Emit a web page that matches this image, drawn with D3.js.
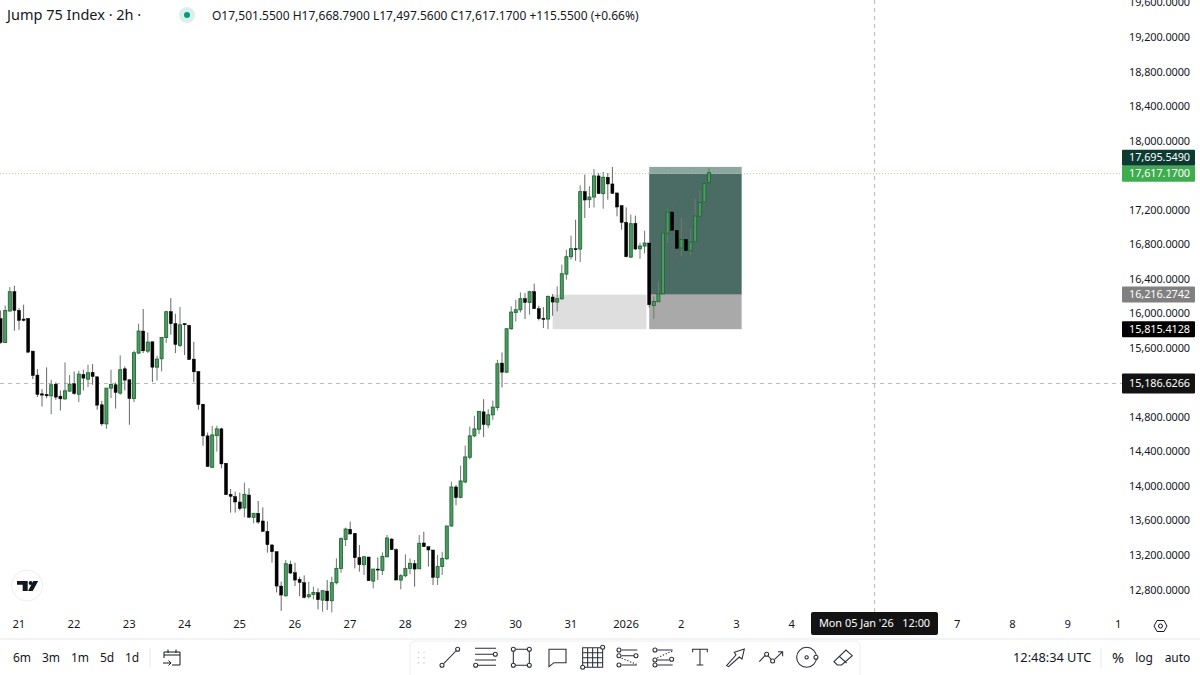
<!DOCTYPE html>
<html><head><meta charset="utf-8">
<script src="https://cdnjs.cloudflare.com/ajax/libs/d3/7.8.5/d3.min.js"></script>
<style>
html,body{margin:0;padding:0;background:#fff;overflow:hidden}
svg{display:block}
text{font-family:"Noto Sans",sans-serif;fill:#131722}
</style></head><body>
<svg id="c" width="1200" height="675"></svg>
<script>
const opens=[15925,15650,16014,16238,16021,15921,15929,15550,15272,15055,
15048,15032,15167,15028,14997,15086,15171,15051,15279,15225,
15303,15252,14928,14707,15121,15160,15063,15345,15218,15001,
15527,15782,15550,15658,15364,15461,15708,16006,15867,15616,
15867,15848,15457,15314,14935,14568,14204,14571,14649,14251,
13891,13864,13802,13733,13883,13625,13671,13582,13462,13304,
13226,12828,12716,13080,12983,12906,12867,12705,12732,12751,
12666,12770,12658,12867,13033,13369,13485,13439,13157,13076,
13165,12886,13025,13010,13168,13373,13250,12898,12948,13033,
13087,13029,13327,13284,13246,12929,13056,13145,13524,13976,
13856,14034,14320,14568,14645,14846,14696,14812,14897,15411,
15306,15809,15998,16029,16157,16114,16238,16041,15929,15921,
16176,16118,16156,16442,16643,16736,16732,17397,17304,17335,
17579,17374,17563,17486,17382,17235,17041,16639,17030,16736,
16767,16802,16079,16122,16214,16914,17161,16949,16744,16844,
16713,16817,17111,17273,17501.55];
const closes=[15650,16021,16238,16021,15906,15906,15538,15268,15048,15040,
15032,15160,15017,14997,15090,15167,15059,15283,15237,15299,
15256,14924,14707,15121,15163,15071,15334,15214,15001,15531,
15782,15554,15654,15364,15457,15708,16006,15867,15627,15855,
15855,15453,15310,14932,14568,14212,14579,14649,14243,13887,
13868,13802,13725,13891,13625,13671,13570,13462,13308,13226,
12828,12724,13087,12979,12898,12871,12697,12728,12755,12670,
12774,12658,12867,13033,13377,13489,13431,13157,13076,13168,
12890,13025,13014,13172,13385,13250,12898,12948,13033,13091,
13025,13323,13284,13246,12929,13056,13149,13524,13976,13853,
14046,14324,14568,14649,14850,14700,14812,14901,15403,15306,
15809,16002,16029,16157,16114,16238,16041,15925,15917,16184,
16118,16157,16446,16643,16736,16728,17397,17300,17335,17579,
17374,17563,17486,17378,17219,17041,16643,17026,16732,16767,
16802,16087,16125,16214,16918,17161,16949,16740,16844,16713,
16813,17115,17273,17490,17617.17];
const highs=[16021,16079,16292,16307,16049,16087,15929,15550,15341,15109,
15361,15218,15187,15094,15419,15272,15314,15322,15334,15391,
15399,15256,14974,15121,15334,15187,15500,15372,15218,15554,
15867,16037,15766,15658,15496,15708,16018,16164,15983,16060,
15875,15855,15658,15314,14935,14606,14684,14684,14664,14251,
13953,13922,13911,14026,13961,13671,13814,13740,13578,13315,
13226,12879,13130,13122,13099,12937,12952,12879,12821,12801,
12774,12898,12937,13149,13393,13505,13574,13439,13304,13168,
13165,13025,13161,13219,13420,13381,13265,12967,13196,13149,
13130,13420,13458,13284,13246,13188,13226,13524,14038,13999,
14224,14455,14676,14800,14850,14993,14877,14978,15449,15534,
15809,16068,16145,16230,16222,16249,16331,16076,16060,16192,
16211,16300,16551,16724,16887,17072,17470,17594,17459,17660,
17613,17625,17613,17683,17382,17235,17215,17130,17119,16806,
16945,16802,16183,16357,16929,17200,17266,16949,17092,17084,
16968,17316,17420,17497,17668.79];
const lows=[15635,15643,16010,15786,15797,15894,15527,15225,15017,14908,
15005,14819,14986,14862,14986,15078,15044,14959,15094,15132,
15160,14870,14684,14649,15005,14885,15044,15094,14696,14959,
15519,15527,15527,15191,15210,15314,15643,15739,15527,15596,
15504,15450,15191,14870,14452,14212,14200,14386,14193,13883,
13679,13679,13702,13625,13625,13555,13547,13458,13215,13099,
12755,12542,12705,12967,12828,12712,12685,12685,12674,12558,
12531,12550,12523,12848,12983,13292,13431,13033,12995,12956,
12890,12801,12898,12956,13161,13246,12898,12790,12929,12967,
12821,13025,13284,13053,12840,12840,12956,13130,13516,13764,
13845,14019,14297,14553,14591,14553,14657,14754,14862,15129,
15295,15797,15894,15998,15921,15971,16037,15905,15817,15805,
15960,16010,16145,16377,16609,16597,16582,17092,17208,17215,
17370,17200,17304,17370,17111,16956,16636,16628,16724,16620,
16682,16056,15924,16122,16207,16802,16937,16597,16647,16713,
16659,16813,17103,17258,17497.56];

const priceTicks=[12800,13200,13600,14000,14400,14800,15600,16000,16400,16800,17200,18000,18400,18800,19200,19600];
const timeTickBars=[4,16,28,40,52,64,76,88,100,112,124,136,148,160,172,208,220,232,243];
const timeTickLabels=["21","22","23","24","25","26","27","28","29","30","31","2026","2","3","4","7","8","9","1"];

const targetPrice=17695.549, lastPrice=17617.17, entryPrice=16216.2742, stopPrice=15815.4128, crosshairPrice=15186.6266;
const leftBoxBars=[120,140.4], rightBoxBars=[141,161.1], crosshairBar=190;
const priceTags=[
 {price:targetPrice,label:"17,695.5490",fill:"#0c3b32",h:16,above:true},
 {price:lastPrice,label:"17,617.1700",fill:"#40ac50",h:16},
 {price:entryPrice,label:"16,216.2742",fill:"#808080",h:16},
 {price:stopPrice,label:"15,815.4128",fill:"#000000",h:16},
 {price:crosshairPrice,label:"15,186.6266",fill:"#131313",h:20}];
const legendTitle="Jump 75 Index · 2h ·";
const legendValues="O17,501.5500 H17,668.7900 L17,497.5600 C17,617.1700 +115.5500 (+0.66%)";
const rangeButtons=["6m","3m","1m","5d","1d"];
const rangeCentres=[22,51,80,107,132];

const svg=d3.select("#c");
const x=d3.scaleLinear().domain([0,200]).range([0.6,920.6]);
const y=d3.scaleLinear().domain([12800,19200]).range([588.5,36]);
const plotRight=1122, plotBottom=612;
const F=12, PF=10.9, LS="-0.08px";

svg.append("rect").attr("width",1200).attr("height",675).attr("fill","#fff");

// overlays sit one pixel below the candle calibration
const over=svg.append("g").attr("transform","translate(0,1)");
over.append("line").attr("x1",0).attr("x2",plotRight).attr("y1",y(lastPrice)).attr("y2",y(lastPrice))
  .attr("stroke","#9ed4a8").attr("stroke-width",1).attr("stroke-dasharray","1 2");
over.append("line").attr("x1",0).attr("x2",plotRight).attr("y1",y(crosshairPrice)).attr("y2",y(crosshairPrice))
  .attr("stroke","#b8b8b8").attr("stroke-width",1).attr("stroke-dasharray","4 4");
svg.append("line").attr("x1",x(crosshairBar)).attr("x2",x(crosshairBar)).attr("y1",0).attr("y2",plotBottom)
  .attr("stroke","#b8b8b8").attr("stroke-width",1).attr("stroke-dasharray","4 4");

function band(bars,p1,p2,fill){
  over.append("rect").attr("x",x(bars[0])).attr("width",x(bars[1])-x(bars[0]))
    .attr("y",y(p1)).attr("height",y(p2)-y(p1)).attr("fill",fill);
}
band(leftBoxBars,entryPrice,stopPrice,"#dedede");
band(rightBoxBars,entryPrice,stopPrice,"#a9a9a9");
band(rightBoxBars,lastPrice,entryPrice,"#4a6c64");
band(rightBoxBars,targetPrice,lastPrice,"#8ba79f");

// candles
const bars=d3.range(opens.length);
const up=i=>closes[i]>=opens[i];
const gC=svg.append("g");
gC.selectAll("line").data(bars).join("line")
  .attr("x1",i=>x(i)).attr("x2",i=>x(i))
  .attr("y1",i=>y(highs[i])).attr("y2",i=>y(lows[i]))
  .attr("stroke",i=>up(i)?"#6d7a70":"#666").attr("stroke-width",1);
gC.selectAll("rect").data(bars).join("rect")
  .attr("x",i=>x(i)-1.5).attr("width",3)
  .attr("y",i=>y(Math.max(opens[i],closes[i])))
  .attr("height",i=>Math.max(1,Math.abs(y(opens[i])-y(closes[i]))))
  .attr("fill",i=>up(i)?"#4f9a63":"#000")
  .attr("stroke",i=>up(i)?"#1f6a35":"#000").attr("stroke-width",i=>up(i)?0.9:0.5);

// price axis
const yAxis=d3.axisRight(y).tickValues(priceTicks).tickSize(0).tickPadding(0)
  .tickFormat(d=>d3.format(",.4f")(d));
const gY=svg.append("g").attr("transform","translate(1129,1)").call(yAxis);
gY.select(".domain").remove();
gY.selectAll("text").attr("font-size",PF).style("letter-spacing",LS).style("font-family",'"Noto Sans",sans-serif').attr("fill","#131722");

// price tags
priceTags.forEach(t=>{
  const c=y(t.price)+1;
  const yTop=t.above?y(lastPrice)+1-8-16:c-t.h/2;
  svg.append("rect").attr("x",1122).attr("y",yTop).attr("width",73).attr("height",t.h).attr("rx",1).attr("fill",t.fill);
  svg.append("text").attr("x",1129).attr("y",yTop+t.h/2).attr("dy","0.35em")
    .attr("font-size",PF).style("letter-spacing",LS).style("fill","#fff").text(t.label);
});

// time axis
const xAxis=d3.axisBottom(x).tickValues(timeTickBars).tickSize(0).tickPadding(0)
  .tickFormat((d,i)=>timeTickLabels[i]);
const gX=svg.append("g").attr("transform","translate(-0.7,620)").call(xAxis);
gX.select(".domain").remove();
gX.selectAll("text").attr("font-size",PF+0.3).style("font-family",'"Noto Sans",sans-serif').attr("fill","#131722");
svg.append("rect").attr("x",811).attr("y",612).attr("width",127).attr("height",23).attr("rx",2).attr("fill","#131313");
svg.append("text").attr("x",874.5).attr("y",626).attr("dy","0.1em").attr("text-anchor","middle")
  .attr("font-size",PF).style("fill","#fff").style("white-space","pre").text("Mon 05 Jan '26   12:00");

// legend
svg.append("text").attr("x",7).attr("y",20).attr("font-size",14.5).text(legendTitle);
svg.append("circle").attr("cx",187).attr("cy",15).attr("r",8).attr("fill","#d9f1ec");
svg.append("circle").attr("cx",187).attr("cy",15).attr("r",3).attr("fill","#089981");
svg.append("text").attr("x",212).attr("y",19.5).attr("font-size",F).text(legendValues);

// TV logo
svg.append("circle").attr("cx",27).attr("cy",585.5).attr("r",15.5).attr("fill","#fff").attr("stroke","#eeeeee");
svg.append("path").attr("fill","#131722").attr("d","M17,581H27.7V591H22.7V584.8H17Z M33.3,581H38.2L32.7,591H28Z");
svg.append("circle").attr("cx",30.6).attr("cy",583).attr("r",2).attr("fill","#131722");

// bottom bar
svg.append("line").attr("x1",0).attr("x2",1200).attr("y1",639).attr("y2",639).attr("stroke","#e6e8ee");
rangeButtons.forEach((b,i)=>svg.append("text").attr("x",rangeCentres[i]).attr("y",662).attr("text-anchor","middle").attr("font-size",F).text(b));
svg.append("line").attr("x1",150).attr("x2",150).attr("y1",648).attr("y2",668).attr("stroke","#e6e8ee");
const cal=svg.append("g").attr("fill","none").attr("stroke","#131722").attr("stroke-width",1);
cal.append("path").attr("d","M164,658V652H180V665H172 M164,655H180 M168,649.5V653 M176,649.5V653 M163,663H171 M168.5,660.5L171,663L168.5,665.5");
svg.append("text").attr("x",1013).attr("y",662).attr("font-size",12.8).text("12:48:34 UTC");
svg.append("line").attr("x1",1101).attr("x2",1101).attr("y1",648).attr("y2",668).attr("stroke","#e6e8ee");
svg.append("text").attr("x",1118).attr("y",662.5).attr("text-anchor","middle").attr("font-size",14.5).text("%");
svg.append("text").attr("x",1144).attr("y",662).attr("text-anchor","middle").attr("font-size",F).text("log");
svg.append("text").attr("x",1177.5).attr("y",662).attr("text-anchor","middle").attr("font-size",F).text("auto");
const hex=svg.append("g").attr("fill","none").attr("stroke","#131722").attr("stroke-width",1);
hex.append("path").attr("d","M1154,626L1157,620.5H1164L1167,626L1164,631.5H1157Z");
hex.append("circle").attr("cx",1160.5).attr("cy",626).attr("r",2);

// floating toolbar
svg.append("path").attr("d","M410,675V646a5,5 0 0 1 5,-5H855a5,5 0 0 1 5,5V675").attr("fill","#fff").attr("stroke","#eceef2");
const T=svg.append("g").attr("transform","translate(400,635) scale(0.3333)").attr("fill","none").attr("stroke","#2a2e39").attr("stroke-width",3.2);
const circ=(cx,cy,r=6)=>T.append("circle").attr("cx",cx).attr("cy",cy).attr("r",r).attr("fill","#fff");
const path=(d,extra)=>{const p=T.append("path").attr("d",d);if(extra)p.attr("stroke-dasharray",extra);return p;};
[55,72].forEach(a=>[52,68,84].forEach(b=>T.append("circle").attr("cx",a).attr("cy",b).attr("r",2).attr("fill","#bbb").attr("stroke","none")));
path("M131,86L168,48");circ(126,91);circ(173,43);
path("M225,40H288M225,58H280M225,75H288M233,91H288");circ(286,58);circ(227,91);
path("M340,43H388V91H340Z");[[340,43],[388,43],[340,91],[388,91]].forEach(c=>circ(c[0],c[1]));
path("M447,43H498V83H462L447,95Z");
path("M548,38H608V97H548Z M563,38V97 M578,38V97 M593,38V97 M548,53H608 M548,68H608 M548,83H608");circ(608,37);circ(548,97);
path("M665,45H712M665,62H702M665,90H710");path("M665,70L710,88","4 5");circ(657,45);circ(657,62);circ(708,62);circ(657,90);
path("M772,45H818M772,75H808M772,90H818");path("M772,68L818,48","4 5");circ(765,45);circ(765,75);circ(815,73);circ(765,90);
path("M878,52V43H922V52 M900,43V90 M890,90H910");
path("M980,92L1008,60L1003,52L1033,42L1026,72L1018,66L986,95Z");
path("M1078,80L1095,62M1105,63L1114,74M1124,73L1148,50M1134,50H1148V64");circ(1100,58);circ(1118,78);
T.append("circle").attr("cx",1220).attr("cy",67).attr("r",30);T.append("circle").attr("cx",1220).attr("cy",67).attr("r",5);circ(1248,67);
path("M1302,80L1338,45L1357,62L1325,90H1312Z M1318,64L1340,84");
</script>
</body></html>
